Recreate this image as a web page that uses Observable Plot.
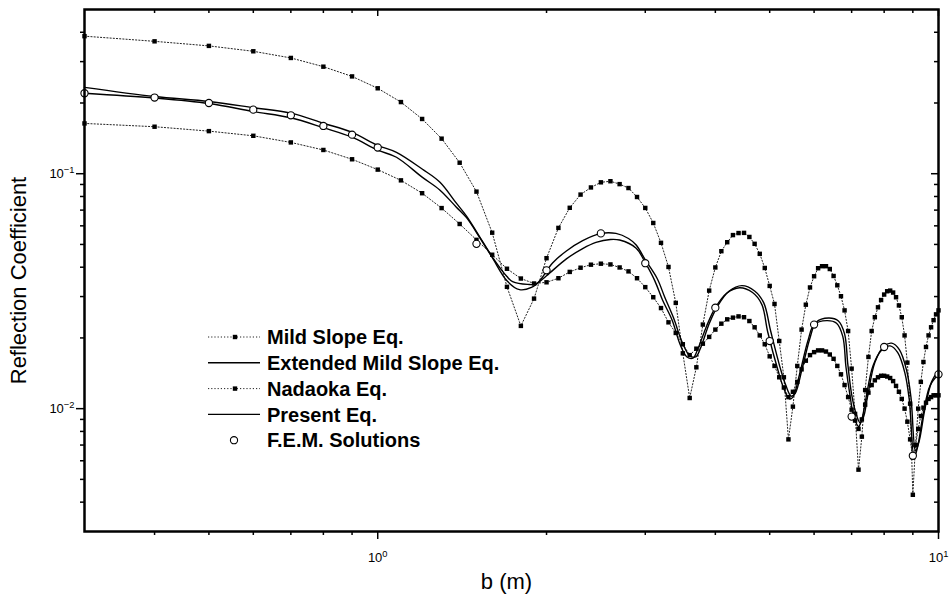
<!DOCTYPE html>
<html><head><meta charset="utf-8">
<script src="https://cdn.jsdelivr.net/npm/d3@7"></script>
<script src="https://cdn.jsdelivr.net/npm/@observablehq/plot@0.6"></script>
<style>
body{margin:0;background:#fff;}
#wrap{position:relative;width:952px;height:594px;font-family:"Liberation Sans",Arial,sans-serif;}
#legend{position:absolute;left:0;top:0;pointer-events:none;}
</style></head><body><div id="wrap"></div>
<script>
// b (m) sampling positions of the two dotted model curves
const gridX = [0.3,0.4,0.5,0.6,0.7,0.8,0.9,1.0,1.1,1.2,1.3,1.4,1.5,1.6,1.7,1.8,1.9,2.0,2.1,2.2,2.3,2.4,2.5,2.6,2.7,2.8,2.9,3.0,3.1,3.2,3.3,3.4,3.5,3.6,3.7,3.8,3.9,4.0,4.1,4.2,4.3,4.4,4.5,4.6,4.7,4.8,4.9,5.0,5.1,5.2,5.3,5.4,5.5,5.6,5.7,5.8,5.9,6.0,6.1,6.2,6.3,6.4,6.5,6.6,6.7,6.8,6.9,7.0,7.1,7.2,7.3,7.4,7.5,7.6,7.7,7.8,7.9,8.0,8.1,8.2,8.3,8.4,8.5,8.6,8.7,8.8,8.9,9.0,9.1,9.2,9.3,9.4,9.5,9.6,9.7,9.8,9.9,10.0];
const mildSlope = [.385,.366,.350,.332,.311,.2855,.2595,.231,.2018,.171,.141,.1114,.0839,.0561,.0330,.0225,.0294,.0437,.0588,.0716,.0815,.0874,.0919,.0929,.0903,.0869,.0796,.0715,.0617,.0508,.0401,.0282,.0172,.0111,.0150,.0228,.0318,.0399,.0468,.0511,.0548,.0559,.0560,.0538,.0503,.0456,.0397,.0333,.0279,.0194,.0136,.0074,.0102,.0152,.0217,.0277,.0328,.0366,.0396,.0404,.0404,.0393,.0367,.0335,.0301,.0262,.0214,.0148,.0095,.0055,.0076,.0120,.0166,.0214,.0245,.0270,.0290,.0306,.0316,.0318,.0312,.0298,.0275,.0245,.0205,.0157,.0105,.0043,.0070,.0100,.0130,.0158,.0183,.0205,.0222,.0238,.0252,.0262];
const nadaoka = [.1637,.1585,.1518,.1450,.1359,.1262,.1152,.1041,.0937,.0826,.0714,.0611,.0523,.0452,.0394,.0358,.0341,.0345,.0359,.0382,.0398,.0410,.0414,.0411,.0399,.0384,.0359,.0329,.0298,.0268,.0233,.0210,.0188,.0169,.0180,.0189,.0202,.0217,.0230,.0240,.0244,.0247,.0245,.0236,.0222,.0205,.0188,.0167,.0152,.0136,.0123,.0112,.0118,.0130,.0147,.0160,.0169,.0174,.0177,.0177,.0175,.0170,.0163,.0152,.0140,.0126,.0112,.0099,.0089,.0082,.0090,.0104,.0117,.0126,.0132,.0136,.0138,.0138,.0137,.0135,.0131,.0125,.0118,.0110,.0100,.0088,.0074,.0062,.0070,.0082,.0093,.0101,.0106,.0110,.0112,.0114,.0114,.0114];

const extendedX = [0.3,0.4,0.5,0.6,0.7,0.8,0.9,1.0,1.08,1.2,1.29,1.38,1.44,1.52,1.6,1.7,1.74,1.85,1.92,2.05,2.17,2.32,2.5,2.66,2.8,2.89,3.0,3.15,3.25,3.37,3.49,3.6,3.69,3.76,3.9,4.04,4.23,4.46,4.7,4.88,5.02,5.23,5.34,5.46,5.55,5.72,5.9,6.05,6.37,6.63,6.8,6.89,7.0,7.12,7.25,7.36,7.47,7.7,7.98,8.25,8.52,8.77,8.93,9.1,9.24,9.46,9.72,10.0];
const extendedY = [.233,.213,.203,.191,.181,.164,.150,.132,.1233,.1047,.0922,.0751,.0660,.0539,.0443,.0365,.0347,.0338,.0341,.0417,.0469,.0519,.0557,.0557,.0530,.0497,.0430,.0358,.0298,.0243,.0192,.0168,.0166,.0180,.0230,.0274,.0316,.0334,.0317,.0282,.0214,.0147,.0126,.0113,.0116,.0150,.0200,.0233,.0243,.0236,.0208,.0155,.0115,.0096,.0087,.0093,.0112,.0157,.0184,.0190,.0178,.0146,.0112,.0066,.0073,.0100,.0130,.0146];

const presentX = [0.3,0.4,0.5,0.6,0.7,0.8,0.9,1.0,1.08,1.2,1.29,1.38,1.44,1.52,1.6,1.7,1.79,1.88,2.0,2.17,2.32,2.45,2.6,2.7,2.89,3.0,3.12,3.22,3.35,3.46,3.56,3.65,3.71,3.86,4.0,4.19,4.42,4.66,4.84,4.96,5.18,5.29,5.42,5.5,5.67,5.85,6.0,6.32,6.58,6.75,6.84,6.96,7.06,7.2,7.3,7.41,7.64,7.93,8.2,8.46,8.71,8.87,9.05,9.18,9.4,9.66,10.0];
const presentY = [.220,.210,.199,.184,.173,.157,.143,.126,.1175,.0967,.0853,.0722,.0650,.0535,.0440,.0350,.0321,.0328,.0368,.0434,.0480,.0510,.0525,.0522,.0482,.0418,.0350,.0290,.0238,.0188,.0166,.0164,.0176,.0225,.0269,.0310,.0327,.0312,.0278,.0212,.0144,.0123,.0110,.0112,.01445,.01945,.0228,.0237,.0231,.0203,.0150,.0112,.0093,.0084,.0090,.0108,.0152,.0178,.0185,.0173,.0142,.0109,.0062,.0069,.0096,.01253,.0140];

const femX = [0.3,0.4,0.5,0.6,0.7,0.8,0.9,1.0,1.5,2.0,2.5,3.0,4.0,5.0,6.0,7.0,8.0,9.0,10.0];
const femY = [.220,.211,.200,.1874,.1773,.1597,.1466,.1293,.0503,.0388,.0557,.0416,.0269,.0194,.0228,.00925,.0183,.0063,.0140];

const xMajor = [1, 10];
const xTickLabels = ["10^0", "10^1"];
const xMinor = [0.4,0.5,0.6,0.7,0.8,0.9,2,3,4,5,6,7,8,9];
const yMajor = [0.01, 0.1];
const yTickLabels = ["10^-2", "10^-1"];
const yMinor = [0.004,0.005,0.006,0.007,0.008,0.009,0.02,0.03,0.04,0.05,0.06,0.07,0.08,0.09,0.2,0.3,0.4];
const legendLabels = ["Mild Slope Eq.", "Extended Mild Slope Eq.", "Nadaoka Eq.", "Present Eq.", "F.E.M. Solutions"];

const W = 952, H = 594, mL = 84, mR = 14, mT = 9, mB = 63;
const pW = W - mL - mR, pH = H - mT - mB;

const msData = gridX.map((x, i) => ({x, y: mildSlope[i]}));
const naData = gridX.map((x, i) => ({x, y: nadaoka[i]}));
const exData = extendedX.map((x, i) => ({x, y: extendedY[i]}));
const prData = presentX.map((x, i) => ({x, y: presentY[i]}));
const femData = femX.map((x, i) => ({x, y: femY[i]}));

const dotted = {x: "x", y: "y", stroke: "#222", strokeWidth: 1, strokeDasharray: "1.2,2"};
const sq = {x: "x", y: "y", symbol: "square", fill: "#000", r: 2.5};

const chart = Plot.plot({
  width: W, height: H,
  marginLeft: mL, marginRight: mR, marginTop: mT, marginBottom: mB,
  style: {fontFamily: '"Liberation Sans", Arial, sans-serif', background: "#fff", color: "#000"},
  x: {type: "log", domain: [0.3, 10], axis: null},
  y: {type: "log", domain: [0.003, 0.5], axis: null},
  marks: [
    Plot.line(msData, dotted),
    Plot.line(naData, dotted),
    Plot.line(exData, {x: "x", y: "y", stroke: "#000", strokeWidth: 1.4, curve: "catmull-rom"}),
    Plot.line(prData, {x: "x", y: "y", stroke: "#000", strokeWidth: 1.4, curve: "catmull-rom"}),
    Plot.dot(msData, sq),
    Plot.dot(naData, sq),
    Plot.dot(femData, {x: "x", y: "y", r: 3.6, fill: "#fff", stroke: "#000", strokeWidth: 1.1}),
    // ticks: bottom/left outward, top/right inward
    Plot.tickX(xMajor, {x: d => d, insetTop: pH, insetBottom: -8, stroke: "#000", strokeWidth: 1.5}),
    Plot.tickX(xMinor, {x: d => d, insetTop: pH, insetBottom: -4, stroke: "#000", strokeWidth: 1.5}),
    Plot.tickX(xMajor, {x: d => d, insetBottom: pH - 7, stroke: "#000", strokeWidth: 1.5}),
    Plot.tickX(xMinor, {x: d => d, insetBottom: pH - 4, stroke: "#000", strokeWidth: 1.5}),
    Plot.tickY(yMajor, {y: d => d, insetLeft: -8, insetRight: pW, stroke: "#000", strokeWidth: 1.5}),
    Plot.tickY(yMinor, {y: d => d, insetLeft: -4, insetRight: pW, stroke: "#000", strokeWidth: 1.5}),
    Plot.tickY(yMajor, {y: d => d, insetLeft: pW - 7, stroke: "#000", strokeWidth: 1.5}),
    Plot.tickY(yMinor, {y: d => d, insetLeft: pW - 4, stroke: "#000", strokeWidth: 1.5}),
    Plot.frame({stroke: "#000", strokeWidth: 2.5}),
    Plot.text(xMajor, {x: d => d, text: (d, i) => xTickLabels[i], frameAnchor: "bottom", lineAnchor: "middle", dy: 26, fontSize: 13, fill: "#000"}),
    Plot.text(yMajor, {y: d => d, text: (d, i) => yTickLabels[i], frameAnchor: "left", lineAnchor: "middle", dx: -10, textAnchor: "end", fontSize: 13, fill: "#000"}),
    Plot.text(["b (m)"], {text: d => d, frameAnchor: "bottom", lineAnchor: "middle", textAnchor: "middle", dx: -5, dy: 50, fontSize: 22, fill: "#000"}),
    Plot.text(["Reflection Coefficient"], {text: d => d, frameAnchor: "left", textAnchor: "middle", lineAnchor: "middle", rotate: -90, dx: -66, dy: 10, fontSize: 22, fill: "#000"})
  ]
});

// superscript exponents in tick labels
d3.select(chart).selectAll("text").each(function () {
  const t = this.textContent;
  if (t.includes("^")) {
    const [base, exp] = t.split("^");
    const el = d3.select(this);
    el.text(null);
    el.append("tspan").text(base);
    el.append("tspan").attr("dy", "-0.55em").attr("font-size", "0.72em").text(exp.replace("-", "\u2212"));
  }
});

const wrap = document.getElementById("wrap");
wrap.appendChild(chart);

// legend drawn inside the plot area
const lg = d3.select(wrap).append("svg").attr("id", "legend").attr("width", W).attr("height", H);
const rowY0 = 337, rowStep = 25.8, gx0 = 208, gx1 = 260, gm = 235, tx = 267;
legendLabels.forEach((lab, i) => {
  const y = rowY0 + i * rowStep;
  if (i === 0 || i === 2) {
    lg.append("line").attr("x1", gx0).attr("x2", gx1).attr("y1", y).attr("y2", y)
      .attr("stroke", "#222").attr("stroke-width", 1).attr("stroke-dasharray", "1.2,2");
    lg.append("rect").attr("x", gm - 2.2).attr("y", y - 2.2).attr("width", 4.4).attr("height", 4.4).attr("fill", "#000");
  } else if (i === 1 || i === 3) {
    lg.append("line").attr("x1", gx0).attr("x2", gx1).attr("y1", y).attr("y2", y)
      .attr("stroke", "#000").attr("stroke-width", 1.4);
  } else {
    lg.append("circle").attr("cx", gm - 1).attr("cy", y).attr("r", 3.6)
      .attr("fill", "#fff").attr("stroke", "#000").attr("stroke-width", 1.1);
  }
  lg.append("text").attr("x", tx).attr("y", y).attr("dy", "0.36em")
    .attr("font-family", '"Liberation Sans", Arial, sans-serif').attr("font-weight", "bold")
    .attr("font-size", 20).attr("fill", "#000").text(lab);
});
</script></body></html>
